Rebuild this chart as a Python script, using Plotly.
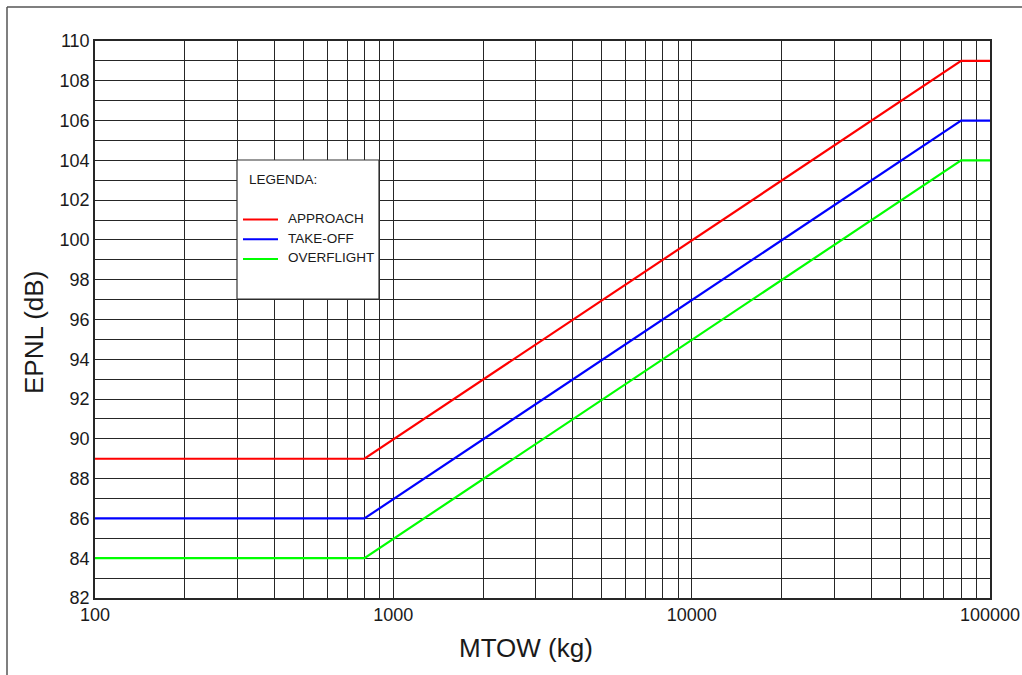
import plotly.graph_objects as go

# ---- data ----
mtow_kg = [100, 800, 80000, 100000]
approach_db = [89, 89, 109, 109]
takeoff_db = [86, 86, 106, 106]
overflight_db = [84, 84, 104, 104]

series_names = ["APPROACH", "TAKE-OFF", "OVERFLIGHT"]
series_colors = ["#ff0000", "#0000ff", "#00ff00"]

x_grid_vals = [m * 10 ** e for e in (2, 3, 4) for m in range(1, 10)] + [100000]
x_tick_labels = {100: "100", 1000: "1000", 10000: "10000", 100000: "100000"}
y_grid_vals = list(range(82, 111))

W, H = 1022, 675
L, R, T, B = 95, 990, 41, 598

fig = go.Figure()
for name, ys, col in zip(series_names, [approach_db, takeoff_db, overflight_db], series_colors):
    fig.add_trace(go.Scatter(x=mtow_kg, y=ys, mode="lines", name=name,
                             line=dict(color=col, width=2.2), showlegend=False))

FONT = "Liberation Sans, Arial, sans-serif"
grid_col = "#262626"

fig.update_layout(
    width=W, height=H,
    margin=dict(l=L, r=W - R, t=T, b=H - B, autoexpand=False),
    paper_bgcolor="white", plot_bgcolor="white",
    font=dict(family=FONT, color="#1a1a1a", size=18),
    showlegend=False,
    xaxis=dict(type="log", range=[2, 5], automargin=False,
               tickvals=x_grid_vals,
               ticktext=[x_tick_labels.get(v, "") for v in x_grid_vals],
               ticklabeloverflow="allow",
               showgrid=True, gridcolor=grid_col, gridwidth=1.4,
               showline=True, linecolor=grid_col, linewidth=1.6, mirror=True,
               ticks="", zeroline=False, tickfont=dict(size=18)),
    yaxis=dict(range=[82, 110], automargin=False,
               tickvals=y_grid_vals,
               ticktext=[str(v) if v % 2 == 0 else "" for v in y_grid_vals],
               showgrid=True, gridcolor=grid_col, gridwidth=1.4,
               showline=True, linecolor=grid_col, linewidth=1.6, mirror=True,
               ticks="", zeroline=False, tickfont=dict(size=18)),
)

def px_x(p):
    return (p - L) / (R - L)

def px_y(p):
    return (B - p) / (B - T)

shapes = []
# outer frame (left and top edges visible)
shapes.append(dict(type="line", xref="paper", yref="paper",
                   x0=px_x(7), x1=px_x(1100), y0=px_y(7), y1=px_y(7),
                   line=dict(color="#555555", width=1.5)))
shapes.append(dict(type="line", xref="paper", yref="paper",
                   x0=px_x(7), x1=px_x(7), y0=px_y(7), y1=px_y(760),
                   line=dict(color="#555555", width=1.5)))
# legend box
shapes.append(dict(type="rect", xref="paper", yref="paper",
                   x0=px_x(237), x1=px_x(379), y0=px_y(299), y1=px_y(160),
                   fillcolor="white", line=dict(color="#333333", width=1.2), layer="above"))
annotations = []
annotations.append(dict(xref="paper", yref="paper", x=px_x(247), y=px_y(180),
                        text="LEGENDA:", showarrow=False, xanchor="left", yanchor="middle",
                        font=dict(size=13.5, color="#1a1a1a")))
for i, (name, col) in enumerate(zip(series_names, series_colors)):
    yy = 219.5 + 19.7 * i
    shapes.append(dict(type="line", xref="paper", yref="paper",
                       x0=px_x(243), x1=px_x(278), y0=px_y(yy), y1=px_y(yy),
                       line=dict(color=col, width=2), layer="above"))
    annotations.append(dict(xref="paper", yref="paper", x=px_x(286), y=px_y(yy - 1),
                            text=name, showarrow=False, xanchor="left", yanchor="middle",
                            font=dict(size=13.5, color="#1a1a1a")))
# axis titles
annotations.append(dict(xref="paper", yref="paper", x=px_x(526), y=px_y(648),
                        text="MTOW (kg)", showarrow=False, xanchor="center", yanchor="middle",
                        font=dict(size=26, color="#1a1a1a")))
annotations.append(dict(xref="paper", yref="paper", x=px_x(34), y=px_y(333),
                        text="EPNL (dB)", showarrow=False, textangle=-90,
                        xanchor="center", yanchor="middle",
                        font=dict(size=26, color="#1a1a1a")))

fig.update_layout(shapes=shapes, annotations=annotations)
fig.write_html("out.html")
